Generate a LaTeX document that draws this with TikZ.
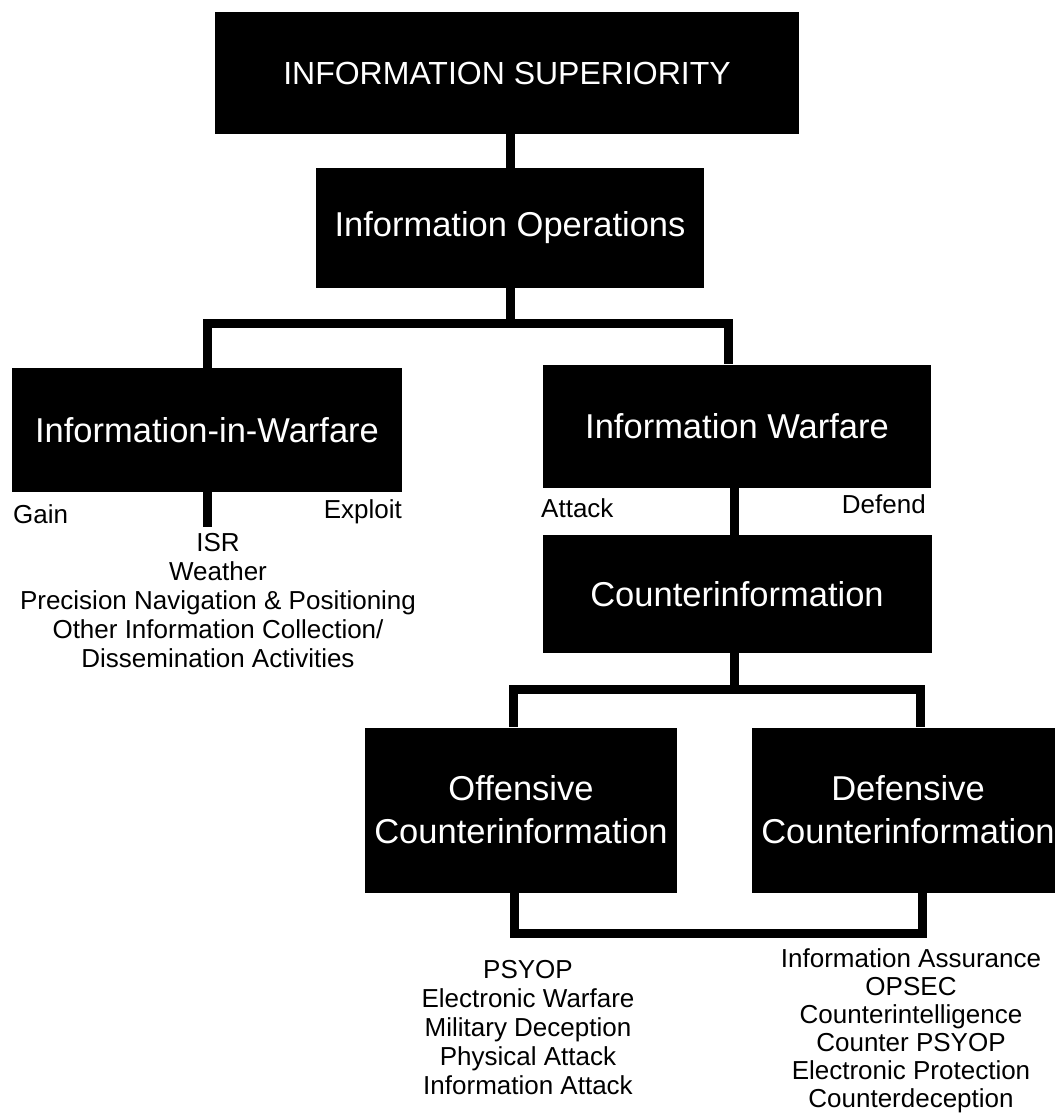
\documentclass[tikz,border=0pt]{standalone}
\usepackage{fontspec}
\setmainfont{Liberation Sans}
\begin{document}
\begin{tikzpicture}[x=1pt, y=-1pt,
    riquadro/.style={rectangle, fill=black, text=white, inner sep=0pt, align=center,
        font=\fontsize{34.5}{43}\selectfont},
    voce/.style={inner sep=0pt, font=\fontsize{26}{29}\selectfont},
    elenco/.style={voce, align=center, anchor=north},
    linea/.style={line width=9pt}]
    \useasboundingbox (0,0) rectangle (1054,1118);
    % Riquadri della gerarchia
    \node[riquadro, minimum width=584pt, minimum height=122pt, font=\fontsize{32}{38}\selectfont]
        (sup) at (507,73) {INFORMATION SUPERIORITY};
    \foreach \nome/\x/\y/\w/\h/\testo in {ops/510/228/388/120/Information Operations,
            iiw/207/430/390/124/Information-in-Warfare, iw/737/426/388/123/Information Warfare,
            ci/737/594/389/118/Counterinformation, oci/521/810/312/165/Offensive\\Counterinformation,
            dci/908/810/312/165/Defensive\\Counterinformation}
        \node[riquadro, minimum width=\w pt, minimum height=\h pt] (\nome) at (\x,\y) {\testo};

    % Collegamenti
    \coordinate (forkA) at (510,323);
    \coordinate (stubiiw) at (207,527);
    \coordinate (forkB) at (734,689);
    \draw[linea] (sup.south -| ops) -- (ops.north);
    \draw[linea] (ops.south) -- (forkA);
    \draw[linea] (iiw.north) |- (forkA) -| ([xshift=-9pt]iw.north);
    \draw[linea] (iiw.south) -- (stubiiw);
    \draw[linea] ([xshift=-3pt]iw.south) -- ([xshift=-3pt]ci.north);
    \draw[linea] ([xshift=-3pt]ci.south) -- (forkB);
    \draw[linea] ([xshift=-8pt]oci.north) |- (forkB) -| ([xshift=12pt]dci.north);
    \draw[linea] ([xshift=-7pt]oci.south) -- ++(0,41) -| ([xshift=14pt]dci.south);

    % Etichette ed elenchi
    \node[voce, anchor=base west] (gain) at (13,523) {Gain};
    \node[voce, anchor=base east] (exploit) at (402,518) {Exploit};
    \node[voce, anchor=base west] (attack) at (541,517) {Attack};
    \node[voce, anchor=base east] (defend) at (926,513) {Defend};
    \node[elenco] (listaiiw) at (218,533)
        {ISR\\Weather\\Precision Navigation \& Positioning\\Other Information Collection/\\Dissemination Activities};
    \node[elenco] (listaoff) at (528,960)
        {PSYOP\\Electronic Warfare\\Military Deception\\Physical Attack\\Information Attack};
    \node[elenco, font=\fontsize{26}{28}\selectfont] (listadif) at (911,948)
        {Information Assurance\\OPSEC\\Counterintelligence\\Counter PSYOP\\Electronic Protection\\Counterdeception};
\end{tikzpicture}
\end{document}
